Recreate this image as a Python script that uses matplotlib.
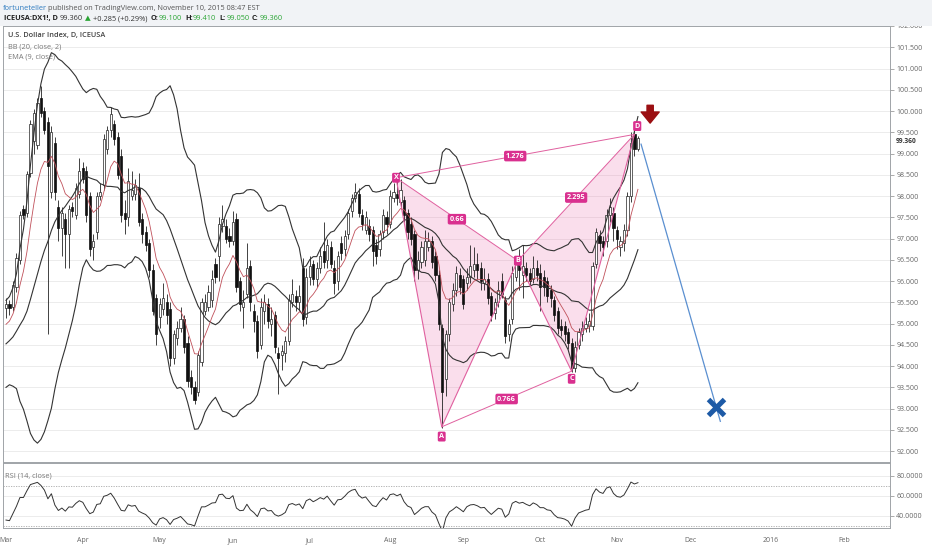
import numpy as np
import pandas as pd
import matplotlib
matplotlib.use('Agg')
import matplotlib.pyplot as plt
from matplotlib.patches import Polygon, Rectangle

plt.rcParams['font.family'] = ['Open Sans', 'DejaVu Sans']

start_date = '2015-03-02'
axis_end_date = '2016-02-29'

# closes of the 20 sessions before the first visible bar (bands / rsi warm-up)
prior_close = [94.55, 93.85, 94.15, 93.85, 94.65, 94.85, 94.75, 94.10, 94.05, 94.20,
               94.10, 94.30, 94.45, 94.35, 94.00, 94.40, 95.10, 95.15, 95.30, 95.40]

opens = [95.37, 95.45, 95.40, 95.85, 96.50, 97.70, 97.60, 98.55, 99.30, 99.20,
         100.30, 100.00, 99.75, 98.10, 99.25, 97.75, 97.25, 97.45, 97.10, 97.75,
         97.55, 98.05, 98.65, 98.60, 98.00, 96.80, 97.15, 98.00, 98.25, 99.10,
         99.55, 99.70, 99.40, 98.95, 97.60, 97.50, 98.00, 98.05, 98.20, 97.45,
         97.15, 96.90, 96.25, 95.60, 95.15, 95.35, 95.50, 95.35, 94.20, 94.65,
         94.90, 95.10, 94.55, 93.75, 93.50, 93.40, 94.10, 95.30, 95.40, 95.55,
         96.40, 96.60, 97.30, 97.30, 97.05, 96.95, 97.45, 96.00, 95.40, 95.70,
         96.35, 95.30, 95.05, 94.50, 95.30, 95.45, 95.00, 95.20, 94.30, 94.25,
         94.30, 94.60, 95.50, 95.65, 95.50, 96.30, 95.15, 96.10, 96.40, 96.05,
         96.30, 96.70, 96.50, 96.80, 96.30, 96.00, 96.90, 96.75, 97.10, 97.65,
         97.95, 98.05, 97.55, 97.20, 97.30, 97.20, 96.85, 96.75, 97.15, 97.50,
         97.35, 97.95, 98.05, 97.85, 97.90, 97.60, 97.35, 97.10, 96.25, 96.45,
         96.50, 96.80, 96.95, 96.60, 96.15, 94.90, 93.70, 94.75, 95.45, 95.80,
         96.15, 96.05, 95.95, 96.10, 96.25, 96.40, 96.30, 95.95, 96.05, 95.65,
         95.25, 95.50, 96.00, 95.55, 94.75, 95.10, 96.10, 96.45, 96.15, 96.30,
         96.20, 96.05, 96.30, 96.20, 96.10, 96.00, 95.80, 95.55, 95.30, 94.95,
         94.95, 94.80, 94.55, 93.95, 94.50, 94.75, 94.90, 94.95, 94.95, 96.40,
         97.05, 96.95, 96.95, 97.55, 97.60, 97.20, 96.80, 96.90, 97.20, 98.00,
         99.45, 99.10]
highs = [95.60, 95.55, 96.00, 96.65, 97.65, 97.80, 98.60, 99.80, 100.05, 100.30,
         100.60, 100.10, 99.85, 99.65, 99.40, 97.90, 97.75, 97.60, 97.80, 97.85,
         98.30, 98.90, 98.80, 98.70, 98.10, 97.10, 98.10, 98.30, 99.45, 99.65,
         100.10, 99.80, 99.50, 99.10, 97.90, 98.65, 98.60, 98.40, 98.55, 97.60,
         97.30, 97.00, 96.40, 95.70, 95.60, 95.95, 95.70, 95.50, 94.85, 95.05,
         95.40, 95.20, 94.70, 93.90, 93.65, 94.35, 95.60, 95.70, 95.90, 96.25,
         96.55, 97.50, 97.80, 97.45, 97.25, 97.65, 97.60, 96.10, 95.80, 96.90,
         96.50, 95.45, 95.20, 95.60, 95.70, 95.60, 95.40, 95.30, 94.45, 94.50,
         94.70, 95.70, 96.05, 95.80, 95.90, 96.55, 96.30, 96.60, 96.50, 96.45,
         96.80, 97.40, 97.00, 96.95, 96.50, 96.70, 97.05, 97.20, 97.70, 98.05,
         98.30, 98.20, 97.70, 97.65, 97.45, 97.30, 97.00, 97.20, 97.70, 97.65,
         98.15, 98.30, 98.45, 98.40, 98.00, 97.70, 97.50, 97.20, 96.70, 96.95,
         97.20, 97.15, 97.05, 96.70, 96.25, 95.00, 94.85, 95.60, 95.95, 96.35,
         96.30, 96.15, 96.30, 96.85, 96.80, 96.65, 96.45, 96.30, 96.20, 95.75,
         95.60, 96.00, 96.20, 95.65, 95.10, 96.35, 96.55, 96.75, 96.85, 96.45,
         96.30, 96.60, 96.50, 96.40, 96.25, 96.10, 95.90, 95.65, 95.40, 95.10,
         95.05, 94.90, 94.65, 94.60, 94.90, 95.05, 95.15, 95.25, 96.45, 97.25,
         97.20, 97.05, 97.70, 97.95, 97.75, 97.30, 97.05, 97.35, 98.10, 99.50,
         99.55, 99.41]
lows = [95.13, 95.20, 95.30, 95.75, 96.40, 97.45, 97.50, 98.45, 99.00, 99.10,
        99.85, 99.45, 94.76, 97.95, 97.90, 96.95, 96.60, 96.30, 96.30, 97.50,
        97.45, 97.95, 98.30, 97.40, 96.60, 96.50, 97.00, 97.90, 98.15, 99.00,
        99.40, 99.20, 98.40, 97.40, 97.10, 97.30, 97.90, 97.90, 97.30, 96.90,
        96.70, 96.10, 95.20, 94.50, 94.90, 95.20, 95.00, 94.00, 94.05, 94.50,
        94.80, 94.30, 93.50, 93.35, 93.10, 93.30, 94.00, 95.20, 95.30, 95.40,
        95.95, 96.00, 97.15, 96.90, 96.80, 96.85, 95.75, 95.30, 94.90, 95.60,
        95.30, 94.80, 94.20, 94.40, 95.00, 94.90, 94.70, 94.30, 93.35, 93.90,
        94.10, 94.50, 95.40, 95.30, 95.30, 94.95, 95.00, 95.90, 95.90, 95.85,
        96.20, 96.30, 96.30, 96.30, 95.70, 95.80, 96.50, 96.60, 97.00, 97.50,
        97.85, 97.50, 97.20, 97.10, 96.95, 96.35, 96.40, 96.60, 97.00, 97.10,
        97.25, 97.85, 97.80, 97.70, 97.40, 97.00, 96.85, 96.00, 96.05, 96.30,
        96.35, 96.70, 96.30, 96.00, 94.85, 92.55, 93.30, 94.60, 95.30, 95.65,
        95.70, 95.35, 95.80, 95.95, 96.10, 96.05, 95.80, 95.80, 95.45, 95.05,
        95.10, 95.40, 95.60, 94.55, 94.60, 95.00, 96.00, 95.80, 95.60, 96.00,
        95.90, 95.95, 96.00, 95.30, 95.65, 95.50, 95.40, 95.05, 94.75, 94.70,
        94.60, 94.40, 93.85, 93.85, 94.40, 94.60, 94.80, 94.80, 94.85, 96.30,
        96.70, 96.60, 96.80, 97.40, 96.95, 96.75, 96.60, 96.70, 97.05, 97.85,
        98.95, 99.05]
closes = [95.45, 95.37, 95.90, 96.55, 97.55, 97.55, 98.52, 99.70, 99.95, 100.20,
          99.95, 99.55, 98.70, 99.50, 98.10, 97.25, 97.60, 97.10, 97.70, 97.65,
          98.20, 98.60, 98.40, 97.55, 96.75, 96.95, 98.00, 98.10, 99.35, 99.55,
          99.93, 99.35, 98.50, 97.55, 97.45, 98.35, 98.15, 98.25, 97.40, 97.10,
          96.85, 96.25, 95.30, 94.75, 95.45, 95.60, 95.20, 94.20, 94.75, 94.90,
          95.10, 94.45, 93.65, 93.50, 93.20, 94.25, 95.50, 95.50, 95.75, 96.05,
          96.10, 97.35, 97.45, 97.00, 96.95, 97.40, 95.85, 95.45, 95.50, 96.30,
          95.50, 95.05, 94.35, 95.40, 95.50, 95.05, 95.10, 94.45, 94.20, 94.35,
          94.60, 95.55, 95.70, 95.50, 95.65, 95.10, 96.10, 96.35, 96.05, 96.30,
          96.60, 96.45, 96.85, 96.40, 95.95, 96.60, 96.65, 97.05, 97.60, 97.95,
          98.10, 97.60, 97.35, 97.50, 97.10, 96.70, 96.60, 97.10, 97.55, 97.35,
          98.00, 98.10, 97.95, 98.15, 97.55, 97.15, 97.00, 96.25, 96.50, 96.80,
          96.95, 96.95, 96.45, 96.15, 95.00, 93.40, 94.75, 95.50, 95.80, 96.20,
          95.85, 95.45, 96.10, 96.35, 96.40, 96.25, 96.00, 96.05, 95.60, 95.20,
          95.50, 95.80, 95.70, 94.70, 95.00, 96.20, 96.45, 96.25, 96.35, 96.15,
          96.00, 96.30, 96.15, 95.85, 95.85, 95.65, 95.60, 95.20, 94.90, 94.85,
          94.75, 94.55, 93.95, 94.45, 94.80, 94.90, 95.00, 95.05, 96.35, 97.15,
          96.90, 96.80, 97.55, 97.75, 97.25, 97.00, 96.95, 97.20, 98.00, 99.25,
          99.10, 99.36]

# harmonic pattern points (bar index, price)
pattern_names = ['X', 'A', 'B', 'C', 'D']
pattern_x = [111.7, 124.8, 146.6, 162.0, 180.0]
pattern_y = [98.43, 92.57, 96.48, 93.88, 99.45]
ratio_labels = ['0.66', '0.766', '2.295', '1.276']
ratio_pairs = [(0, 2), (1, 3), (2, 4), (0, 4)]

projection_x = [181.9, 204.6]
projection_y = [99.22, 92.70]
target_x, target_y = 203.4, 93.03

price_ticks = np.arange(92.0, 102.01, 0.5)
rsi_ticks = [40, 60, 80]
month_labels = ['Mar', 'Apr', 'May', 'Jun', 'Jul', 'Aug', 'Sep', 'Oct', 'Nov',
                'Dec', '2016', 'Feb']

last_price = 99.36

# ---------- indicators ----------
all_close = pd.Series(prior_close + closes)
n0 = len(prior_close)
mid = all_close.rolling(20).mean()
sd = all_close.rolling(20).std(ddof=0)
upper = mid + 2 * sd
lower = mid - 2 * sd
ema = all_close.ewm(span=9, adjust=False).mean()
d = all_close.diff()
gain = d.clip(lower=0).ewm(alpha=1 / 14, adjust=False).mean()
loss = (-d.clip(upper=0)).ewm(alpha=1 / 14, adjust=False).mean()
rsi = 100 - 100 / (1 + gain / loss)

days = pd.bdate_range(start_date, axis_end_date)
month_pos = [i for i in range(len(days)) if i == 0 or days[i].month != days[i - 1].month]

# ---------- figure ----------
W, H = 932, 550
fig = plt.figure(figsize=(W / 100, H / 100), dpi=100)
fig.patch.set_facecolor('white')


def fx(px):
    return px / W


def fy(py):
    return 1 - py / H


fig.patches.append(Rectangle((0, fy(26)), 1, 26 / H, transform=fig.transFigure,
                             facecolor='#f1f3f6', edgecolor='none', zorder=0))

ax = fig.add_axes([fx(3), fy(462), 887 / W, 436 / H])
rax = fig.add_axes([fx(3), fy(528), 887 / W, 65 / H])

xmin, xmax = -0.86, 253.2
for a in (ax, rax):
    a.set_facecolor('white')
    for s in a.spines.values():
        s.set_color('#a0a4a8')
        s.set_linewidth(0.7)
    a.yaxis.tick_right()
    a.tick_params(axis='y', length=3, width=0.5, color='#888888', labelsize=5,
                  labelcolor='#666666', pad=1.5)
    a.set_xlim(xmin, xmax)

# main panel
ax.set_ylim(91.743, 101.93)
ax.set_yticks(price_ticks)
ax.set_yticklabels(['%.3f' % v for v in price_ticks])
ax.set_xticks([])
ax.grid(axis='y', color='#ececec', lw=0.7)
ax.set_axisbelow(True)

x = np.arange(len(closes))
o, h, l, c = map(np.array, (opens, highs, lows, closes))
up = c >= o
ax.vlines(x, l, h, color='#222222', lw=0.6, zorder=3)
ax.bar(x[up], c[up] - o[up], bottom=o[up], width=0.62, facecolor='white',
       edgecolor='#222222', lw=0.5, zorder=4)
ax.bar(x[~up], o[~up] - c[~up], bottom=c[~up], width=0.62, facecolor='#111111',
       edgecolor='#111111', lw=0.5, zorder=4)

ax.plot(x, upper[n0:], color='#333333', lw=0.8, zorder=5)
ax.plot(x, lower[n0:], color='#333333', lw=0.8, zorder=5)
ax.plot(x, mid[n0:], color='#333333', lw=0.8, zorder=5)
ax.plot(x, ema[n0:], color='#c0505a', lw=0.6, zorder=5)

# pattern
pink = '#e0609f'
pts = list(zip(pattern_x, pattern_y))
for tri in [(0, 1, 2), (2, 3, 4)]:
    ax.add_patch(Polygon([pts[i] for i in tri], closed=True, facecolor='#ec6aaa',
                         alpha=0.22, edgecolor='none', zorder=2))
ax.plot(pattern_x, pattern_y, color=pink, lw=0.8, zorder=6)
for (i, j), txt in zip(ratio_pairs, ratio_labels):
    ax.plot([pattern_x[i], pattern_x[j]], [pattern_y[i], pattern_y[j]], color=pink,
            lw=0.7, zorder=6)
    ax.text((pattern_x[i] + pattern_x[j]) / 2, (pattern_y[i] + pattern_y[j]) / 2, txt,
            ha='center', va='center', fontsize=5.2, color='white', weight='bold', zorder=8,
            bbox=dict(boxstyle='round,pad=0.25', fc='#d9308f', ec='none'))
offsets = {'X': (0, 0), 'A': (0, -7), 'B': (0, 0), 'C': (0, -5.5), 'D': (2, 6)}
for name, px_, py_ in zip(pattern_names, pattern_x, pattern_y):
    ax.annotate(name, (px_, py_), xytext=offsets[name], textcoords='offset points',
                ha='center', va='center', fontsize=5.2, color='white', weight='bold',
                zorder=8, bbox=dict(boxstyle='round,pad=0.2', fc='#d9308f', ec='none'))

# projection
ax.plot(projection_x, projection_y, color='#5a8fd0', lw=0.9, zorder=6)
ax.plot([target_x], [target_y], marker='x', markersize=11, markeredgewidth=3.6,
        color='#1d5aa6', zorder=7)
ax.annotate('', xy=(184.5, 99.65), xytext=(184.5, 100.2),
            arrowprops=dict(arrowstyle='simple,head_width=1.3,head_length=0.8,tail_width=0.45',
                            color='#9b0f12', mutation_scale=10), zorder=7)

ax.annotate('%.3f' % last_price, xy=(1, last_price), xycoords=('axes fraction', 'data'),
            xytext=(4.2, -2.2), textcoords='offset points', ha='left', va='center',
            fontsize=4.8, color='#333333', weight='bold')

# rsi panel
rax.set_ylim(28, 93)
rax.set_yticks(rsi_ticks)
rax.set_yticklabels(['%.4f' % v for v in rsi_ticks])
rax.grid(axis='y', color='#ececec', lw=0.7)
for lvl in (70, 30):
    rax.axhline(lvl, color='#a8a8a8', lw=0.6, ls=(0, (1.5, 1.5)))
rax.plot(x, rsi[n0:], color='#333333', lw=0.7)
rax.set_xticks(month_pos)
rax.set_xticklabels(month_labels)
rax.tick_params(axis='x', length=0, labelsize=5, labelcolor='#666666', pad=6.5)

# texts
fig.text(fx(3), fy(8), 'fortuneteller', color='#2e7bbf', fontsize=5.4, va='center')
fig.text(fx(48), fy(8), 'published on TradingView.com, November 10, 2015 08:47 EST',
         color='#555555', fontsize=5.3, va='center')
y2 = fy(18.5)
fig.text(fx(4), y2, 'ICEUSA:DX1!, D', color='#222222', fontsize=5.3, weight='bold', va='center')
fig.text(fx(60), y2, '99.360', color='#333333', fontsize=5.3, va='center')
fig.text(fx(85), y2, '▲', color='#2aa534', fontsize=5.3, va='center')
fig.text(fx(93), y2, '+0.285 (+0.29%)', color='#333333', fontsize=5.3, va='center')
for lab, val, xp in [('O:', '99.100', 151), ('H:', '99.410', 185), ('L:', '99.050', 219),
                     ('C:', '99.360', 252)]:
    fig.text(fx(xp), y2, lab, color='#222222', fontsize=5.3, weight='bold', va='center')
    fig.text(fx(xp + 8), y2, val, color='#2aa534', fontsize=5.3, va='center')

fig.text(fx(8), fy(36), 'U.S. Dollar Index, D, ICEUSA', color='#444444', fontsize=5.3,
         weight='semibold', va='center')
fig.text(fx(8), fy(46.5), 'BB (20, close, 2)', color='#777777', fontsize=5.3, va='center')
fig.text(fx(8), fy(57), 'EMA (9, close)', color='#777777', fontsize=5.3, va='center')
fig.text(fx(5), fy(476), 'RSI (14, close)', color='#777777', fontsize=5.3, va='center')

fig.savefig('out.png', dpi=100)
